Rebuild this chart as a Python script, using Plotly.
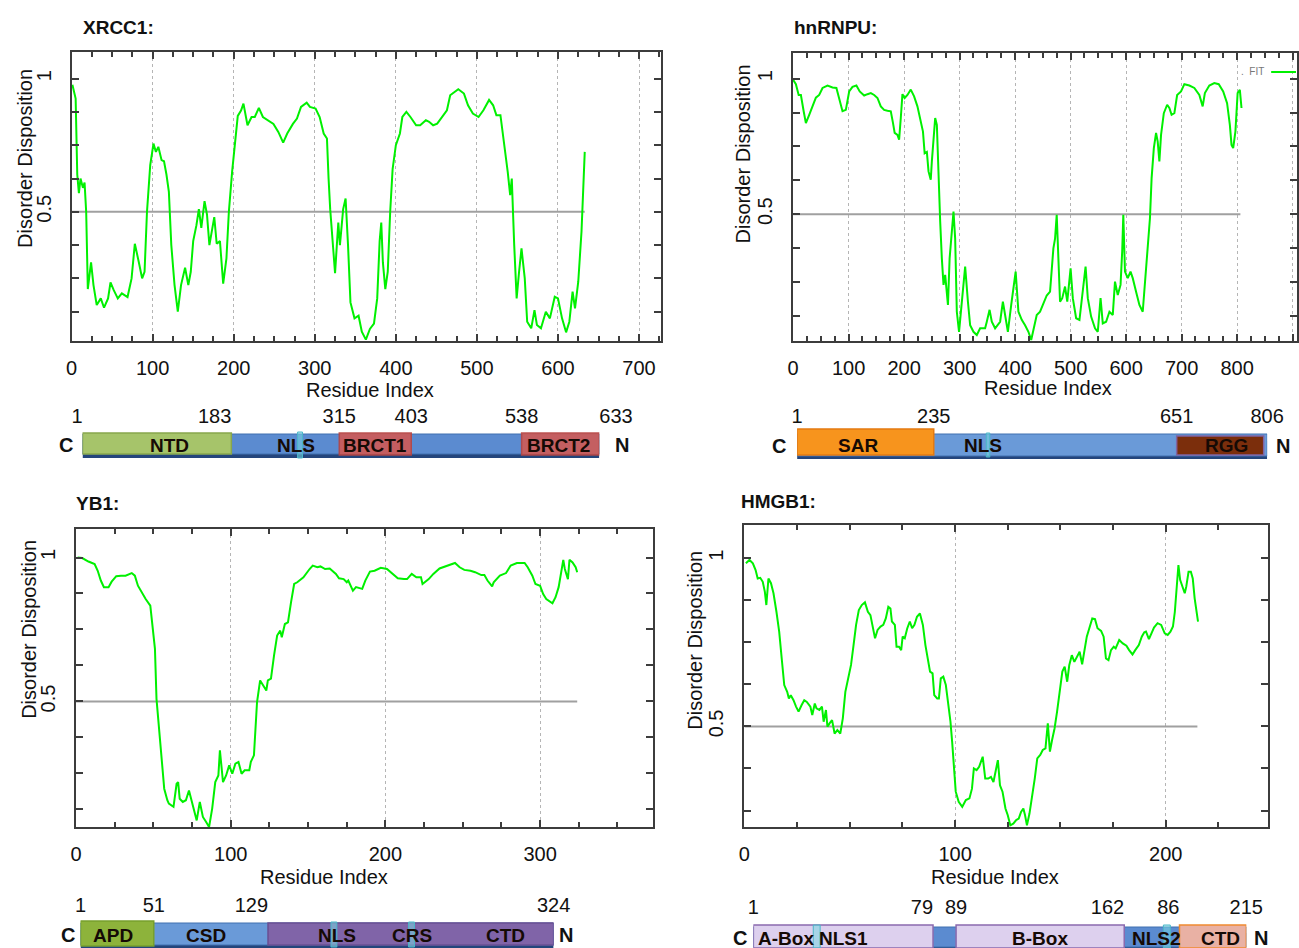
import plotly.graph_objects as go

W, H = 1299, 948
FONT = "Liberation Sans, Arial, sans-serif"
GREEN = "#00f000"
FRAME = "#3c3c3c"

# ---------------- data ----------------
xrcc1_res = [1, 5, 7, 9, 11, 14, 16, 18, 20, 24, 27, 31, 36, 40, 45, 48, 52, 57, 62, 69, 74, 78, 83, 87, 90, 93,
             97, 101, 104, 107, 111, 114, 117, 120, 123, 127, 131, 135, 140, 144, 147, 150, 154, 157, 160, 164, 167,
             170, 176, 179, 183, 187, 191, 194, 198, 202, 205, 209, 212, 217, 222, 226, 231, 236, 242, 249, 255, 261,
             266, 273, 278, 283, 290, 294, 301, 306, 311, 315, 317, 319, 323, 325, 329, 331, 335, 338, 341, 344, 349,
             354, 358, 363, 368, 373, 377, 380, 382, 384, 387, 390, 393, 396, 400, 405, 408, 413, 418, 425, 430, 437,
             441, 446, 451, 458, 463, 467, 472, 477, 484, 489, 495, 502, 508, 515, 520, 524, 529, 534, 538, 541, 543,
             546, 549, 552, 555, 559, 562, 567, 571, 574, 579, 585, 590, 596, 600, 605, 610, 614, 618, 621, 625, 629, 633]
xrcc1_dis = [0.977, 0.925, 0.64, 0.57, 0.625, 0.59, 0.61, 0.50, 0.21, 0.31, 0.225, 0.15, 0.175, 0.14, 0.175, 0.235,
             0.206, 0.175, 0.194, 0.18, 0.25, 0.38, 0.31, 0.25, 0.275, 0.50, 0.675, 0.756, 0.725, 0.744, 0.694, 0.69,
             0.64, 0.575, 0.375, 0.225, 0.125, 0.225, 0.29, 0.225, 0.275, 0.39, 0.45, 0.51, 0.44, 0.54, 0.49, 0.375,
             0.48, 0.38, 0.39, 0.23, 0.325, 0.50, 0.65, 0.76, 0.86, 0.88, 0.906, 0.825, 0.856, 0.856, 0.89, 0.856,
             0.844, 0.83, 0.80, 0.76, 0.794, 0.83, 0.85, 0.894, 0.91, 0.894, 0.888, 0.856, 0.794, 0.775, 0.625, 0.51,
             0.35, 0.27, 0.46, 0.375, 0.51, 0.55, 0.375, 0.16, 0.10, 0.11, 0.05, 0.02, 0.06, 0.08, 0.175, 0.39, 0.46,
             0.31, 0.21, 0.275, 0.50, 0.66, 0.75, 0.794, 0.856, 0.875, 0.856, 0.825, 0.825, 0.844, 0.838, 0.825,
             0.831, 0.863, 0.881, 0.9375, 0.95, 0.96, 0.944, 0.90, 0.869, 0.856, 0.881, 0.92, 0.90, 0.863, 0.863,
             0.75, 0.65, 0.5625, 0.625, 0.375, 0.175, 0.275, 0.3625, 0.25, 0.0875, 0.0625, 0.131, 0.075, 0.0625,
             0.125, 0.10, 0.181, 0.175, 0.10, 0.0475, 0.0875, 0.20, 0.1375, 0.2375, 0.425, 0.725]

hnrnpu_res = [0, 5, 10, 14, 19, 23, 29, 35, 41, 47, 53, 62, 71, 78, 83, 89, 95, 101, 107, 114, 120, 128, 134, 140,
              146, 152, 158, 164, 170, 176, 180, 183, 188, 191, 194, 197, 201, 206, 212, 218, 224, 230, 234, 237,
              241, 244, 248, 250, 253, 256, 259, 262, 265, 268, 271, 274, 279, 282, 285, 289, 292, 295, 299, 304,
              310, 315, 319, 325, 331, 337, 346, 349, 354, 358, 364, 373, 378, 382, 387, 393, 397, 401, 406, 412,
              418, 424, 429, 433, 439, 445, 451, 457, 463, 466, 469, 472, 475, 478, 481, 485, 490, 494, 500, 504,
              510, 516, 522, 527, 531, 537, 544, 549, 554, 558, 564, 570, 576, 580, 585, 590, 593, 595, 598, 603,
              608, 612, 618, 624, 630, 634, 639, 643, 646, 650, 654, 657, 660, 663, 668, 674, 678, 682, 687, 692,
              699, 705, 714, 723, 732, 738, 742, 750, 759, 767, 775, 782, 787, 790, 793, 797, 801, 805, 808]
hnrnpu_dis = [0.996, 0.98, 0.94, 0.94, 0.88, 0.836, 0.867, 0.898, 0.93, 0.94, 0.966, 0.975, 0.968, 0.966, 0.922,
              0.88, 0.885, 0.953, 0.97, 0.975, 0.953, 0.938, 0.943, 0.947, 0.94, 0.929, 0.898, 0.885, 0.882, 0.88,
              0.836, 0.80, 0.793, 0.775, 0.855, 0.943, 0.929, 0.94, 0.96, 0.935, 0.898, 0.842, 0.805, 0.725, 0.73,
              0.658, 0.627, 0.695, 0.793, 0.855, 0.83, 0.608, 0.473, 0.337, 0.239, 0.276, 0.165, 0.337, 0.424,
              0.51, 0.41, 0.14, 0.066, 0.19, 0.307, 0.177, 0.09, 0.066, 0.054, 0.079, 0.079, 0.103, 0.147, 0.103,
              0.079, 0.103, 0.177, 0.128, 0.066, 0.165, 0.239, 0.288, 0.14, 0.11, 0.09, 0.066, 0.036, 0.073, 0.128,
              0.14, 0.171, 0.20, 0.214, 0.288, 0.374, 0.41, 0.498, 0.337, 0.177, 0.19, 0.233, 0.177, 0.30, 0.19,
              0.116, 0.11, 0.214, 0.307, 0.19, 0.122, 0.079, 0.066, 0.19, 0.097, 0.103, 0.14, 0.128, 0.251, 0.202,
              0.239, 0.362, 0.498, 0.288, 0.264, 0.288, 0.264, 0.214, 0.165, 0.14, 0.239, 0.374, 0.485, 0.633,
              0.744, 0.80, 0.768, 0.695, 0.793, 0.873, 0.904, 0.892, 0.867, 0.873, 0.94, 0.953, 0.98, 0.975, 0.966,
              0.94, 0.898, 0.947, 0.975, 0.984, 0.98, 0.953, 0.91, 0.83, 0.756, 0.744, 0.805, 0.947, 0.959, 0.892]

yb1_res = [1, 4, 8, 12, 14, 16, 18, 21, 23, 26, 29, 32, 36, 38, 40, 43, 45, 48, 49, 51, 52, 54, 56, 57, 59, 60, 63,
           65, 66, 67, 69, 71, 73, 75, 76, 78, 80, 82, 84, 86, 88, 90, 92, 93, 95, 97, 99, 101, 103, 105, 107, 109,
           112, 113, 115, 116, 117, 119, 121, 123, 124, 126, 128, 130, 132, 133, 135, 137, 139, 141, 143, 147, 151,
           153, 156, 158, 161, 164, 168, 170, 173, 175, 176, 179, 181, 185, 187, 190, 193, 197, 201, 205, 208, 212,
           214, 217, 220, 223, 224, 228, 231, 235, 239, 242, 245, 248, 251, 255, 258, 262, 264, 266, 269, 270, 274,
           278, 281, 285, 290, 292, 295, 297, 300, 302, 304, 308, 310, 312, 314, 315, 316, 318, 319, 321, 323, 324]
yb1_dis = [1.0, 0.998, 0.986, 0.977, 0.954, 0.92, 0.897, 0.897, 0.916, 0.935, 0.937, 0.937, 0.946, 0.937, 0.902,
           0.873, 0.856, 0.833, 0.775, 0.683, 0.509, 0.382, 0.243, 0.197, 0.157, 0.145, 0.134, 0.214, 0.22, 0.162,
           0.151, 0.157, 0.191, 0.151, 0.128, 0.087, 0.151, 0.099, 0.082, 0.064, 0.128, 0.22, 0.243, 0.33, 0.22,
           0.243, 0.278, 0.249, 0.284, 0.29, 0.249, 0.261, 0.261, 0.29, 0.313, 0.405, 0.498, 0.573, 0.555, 0.538,
           0.573, 0.579, 0.66, 0.729, 0.746, 0.723, 0.769, 0.775, 0.845, 0.908, 0.914, 0.931, 0.96, 0.972, 0.966,
           0.969, 0.96, 0.962, 0.943, 0.928, 0.925, 0.914, 0.92, 0.885, 0.897, 0.891, 0.92, 0.951, 0.954, 0.964,
           0.96, 0.943, 0.928, 0.925, 0.925, 0.943, 0.931, 0.931, 0.908, 0.925, 0.943, 0.962, 0.969, 0.977, 0.981,
           0.966, 0.957, 0.954, 0.949, 0.939, 0.939, 0.92, 0.90, 0.914, 0.937, 0.946, 0.972, 0.981, 0.981, 0.966,
           0.937, 0.908, 0.902, 0.873, 0.856, 0.841, 0.862, 0.897, 0.96, 0.992, 0.96, 0.925, 0.992, 0.983, 0.966,
           0.949]

hmgb1_res = [0.7, 2.4, 4, 5.3, 6.3, 7.5, 8.7, 9.7, 10.4, 11.4, 12.6, 13.8, 15.2, 16.5, 17.7, 18.9, 20.3, 21.1, 22,
             23.3, 24.5, 25.7, 27.1, 28.4, 29.6, 31.3, 32.2, 33.4, 34.2, 35.6, 36.8, 37.6, 38.7, 39.4, 40.4, 41.6,
             42.8, 44.1, 45.5, 46.7, 47.9, 49.2, 50.6, 51.8, 53, 54.3, 55.7, 57.2, 58.6, 59.8, 60.8, 62, 63.2, 64.6,
             65.9, 67.1, 68.3, 69.3, 70, 71.4, 72.2, 73.4, 74.4, 75.1, 76.1, 77.3, 78.5, 79.6, 80.7, 81.9, 83.3,
             84.7, 85.9, 87.1, 88.1, 89.3, 90.1, 91.5, 92.3, 93.2, 94.4, 95.6, 96.6, 97.8, 98.6, 99.5, 100.3, 101.7,
             103.4, 105.1, 106.8, 108, 108.9, 110.2, 111.4, 113.1, 114.3, 115.7, 117, 118.2, 119.4, 120.3, 121.3,
             122.5, 123.9, 125, 126.2, 127.6, 128.9, 130.2, 131.3, 132.4, 133.2, 134.1, 135.3, 136.5, 137.8, 139,
             140.4, 141.6, 142.9, 144, 145, 146, 147.2, 148.4, 149.7, 150.9, 152, 153.2, 154.2, 155.4, 156.6, 157.9,
             159.1, 160.3, 161.3, 162.5, 163.7, 165.1, 166.4, 167.6, 169.3, 170.5, 171.6, 172.8, 174, 175.3, 176.2,
             177.9, 179.6, 181.3, 182.6, 184.2, 185.5, 187.2, 188.6, 189.8, 190.6, 192, 193.2, 194.4, 196.1, 197.8,
             199.5, 200.9, 202.2, 203.4, 204.3, 205.2, 206, 206.8, 208, 209, 209.7, 210.8, 211.9, 212.8, 213.7, 215.3]
hmgb1_dis = [0.985, 0.995, 0.985, 0.965, 0.94, 0.942, 0.93, 0.90, 0.861, 0.94, 0.926, 0.896, 0.841, 0.782, 0.702,
             0.623, 0.603, 0.583, 0.593, 0.578, 0.559, 0.544, 0.563, 0.578, 0.573, 0.559, 0.534, 0.568, 0.554, 0.549,
             0.559, 0.514, 0.549, 0.499, 0.509, 0.519, 0.479, 0.489, 0.479, 0.524, 0.603, 0.643, 0.683, 0.742,
             0.802, 0.846, 0.861, 0.869, 0.841, 0.831, 0.802, 0.762, 0.787, 0.797, 0.802, 0.821, 0.856, 0.851,
             0.812, 0.802, 0.737, 0.737, 0.727, 0.767, 0.762, 0.792, 0.812, 0.792, 0.802, 0.826, 0.836, 0.802,
             0.742, 0.692, 0.663, 0.658, 0.593, 0.583, 0.583, 0.643, 0.648, 0.623, 0.573, 0.514, 0.454, 0.365,
             0.306, 0.276, 0.261, 0.281, 0.286, 0.315, 0.375, 0.370, 0.380, 0.410, 0.345, 0.345, 0.350, 0.335,
             0.375, 0.400, 0.325, 0.306, 0.256, 0.236, 0.206, 0.211, 0.221, 0.226, 0.246, 0.256, 0.236, 0.206,
             0.241, 0.286, 0.345, 0.405, 0.415, 0.430, 0.435, 0.509, 0.425, 0.459, 0.494, 0.544, 0.603, 0.663,
             0.678, 0.633, 0.683, 0.712, 0.692, 0.707, 0.722, 0.685, 0.722, 0.767, 0.792, 0.821, 0.819, 0.792,
             0.784, 0.767, 0.702, 0.697, 0.727, 0.737, 0.732, 0.757, 0.747, 0.740, 0.727, 0.714, 0.727, 0.742,
             0.767, 0.78, 0.782, 0.760, 0.777, 0.794, 0.807, 0.802, 0.777, 0.772, 0.782, 0.797, 0.841, 0.926, 0.98,
             0.936, 0.915, 0.896, 0.915, 0.96, 0.96, 0.94, 0.881, 0.812]

seq_len = {"XRCC1": 633, "hnRNPU": 806, "YB1": 324, "HMGB1": 215}
threshold = 0.5

ytick_vals = [0.125, 0.25, 0.375, 0.5, 0.625, 0.75, 0.875, 1.0]
ytick_text = ["", "", "", "0.5", "", "", "", "1"]

xrcc1_xticks = [0, 100, 200, 300, 400, 500, 600, 700]
hnrnpu_xticks = [0, 100, 200, 300, 400, 500, 600, 700, 800, 900]
yb1_xticks = [0, 100, 200, 300]
hmgb1_xticks = [0, 100, 200]

# domain diagrams (residue numbers)
xrcc1_bounds = [1, 183, 315, 403, 538, 633]
xrcc1_bound_text = ["1", "183", "315", "403", "538", "633"]
xrcc1_bound_side = ["middle left", "middle left", "middle center", "middle center", "middle center", "middle right"]
xrcc1_motifs = [(264, 270)]
xrcc1_labels = ["NTD", "NLS", "BRCT1", "BRCT2"]
xrcc1_label_res = [107, 262, 359, 583]

hnrnpu_bounds = [1, 235, 651, 806]
hnrnpu_bound_text = ["1", "235", "651", "806"]
hnrnpu_bound_side = ["middle center", "middle center", "middle center", "middle center"]
hnrnpu_motifs = [(325, 331)]
hnrnpu_labels = ["SAR", "NLS", "RGG"]
hnrnpu_label_res = [106, 319, 736]

yb1_bounds = [1, 51, 129, 324]
yb1_bound_text = ["1", "51", "129", "324"]
yb1_bound_side = ["middle center", "middle center", "middle left", "middle center"]
yb1_motifs = [(172, 176), (225, 229)]
yb1_labels = ["APD", "CSD", "NLS", "CRS", "CTD"]
yb1_label_res = [23, 87, 176, 227, 291]

hmgb1_bounds = [1, 79, 89, 162, 186, 215]
hmgb1_bound_text = ["1", "79", "89", "162", "86", "215"]
hmgb1_bound_side = ["middle center", "middle left", "middle center", "middle left", "middle left", "middle center"]
hmgb1_motifs = [(27, 30), (179, 182)]
hmgb1_labels = ["A-Box", "NLS1", "B-Box", "NLS2", "CTD"]
hmgb1_label_res = [15, 40, 125.5, 176, 204]


# ---------------- helpers ----------------
def PX(p):
    return p / W


def PY(p):
    return 1 - p / H


fig = go.Figure()

panels = [
    dict(key="XRCC1", n=1, res=xrcc1_res, dis=xrcc1_dis, xdom=(66, 659), ydom=(52, 341),
         xr=[0, 727], yr=[0.015, 1.1], xt=xrcc1_xticks),
    dict(key="hnRNPU", n=2, res=hnrnpu_res, dis=hnrnpu_dis, xdom=(792, 1299), ydom=(53, 341),
         xr=[0, 908], yr=[0.032, 1.095], xt=hnrnpu_xticks),
    dict(key="YB1", n=3, res=yb1_res, dis=yb1_dis, xdom=(70.5, 651), ydom=(529, 827),
         xr=[0, 373], yr=[0.064, 1.099], xt=yb1_xticks),
    dict(key="HMGB1", n=4, res=hmgb1_res, dis=hmgb1_dis, xdom=(743, 1270), ydom=(525, 827),
         xr=[0, 248.6], yr=[0.201, 1.099], xt=hmgb1_xticks),
]

layout_axes = {}
for p in panels:
    n = p["n"]
    xa = "x" if n == 1 else f"x{n}"
    ya = "y" if n == 1 else f"y{n}"
    L = seq_len[p["key"]]
    fig.add_trace(go.Scatter(x=[0, L], y=[threshold, threshold], mode="lines",
                             line=dict(color="#a0a0a0", width=2), xaxis=xa, yaxis=ya,
                             showlegend=False, hoverinfo="skip"))
    fig.add_trace(go.Scatter(x=p["res"], y=p["dis"], mode="lines",
                             line=dict(color=GREEN, width=2), xaxis=xa, yaxis=ya,
                             showlegend=False, name="FIT"))
    ticktext = [str(v) if not (p["key"] == "hnRNPU" and v == 900) else "" for v in p["xt"]]
    layout_axes["xaxis" if n == 1 else f"xaxis{n}"] = dict(
        domain=[PX(p["xdom"][0]), PX(p["xdom"][1])], range=p["xr"], anchor=ya,
        tickmode="array", tickvals=p["xt"], ticktext=ticktext,
        ticks="inside", ticklen=7, tickwidth=1.5, tickcolor=FRAME,
        showline=True, linecolor=FRAME, linewidth=2, mirror="ticks",
        showgrid=True, gridcolor="#b5b5b5", griddash="dot", gridwidth=1.2, zeroline=False,
        tickfont=dict(family=FONT, size=20, color="#111"), ticklabelstandoff=8,
        minor=dict(dtick=25, tick0=0, ticks="inside", ticklen=5, tickcolor=FRAME, showgrid=False),
    )
    layout_axes["yaxis" if n == 1 else f"yaxis{n}"] = dict(
        domain=[PY(p["ydom"][1]), PY(p["ydom"][0])], range=p["yr"], anchor=xa,
        tickmode="array", tickvals=ytick_vals, ticktext=ytick_text,
        ticks="inside", ticklen=7, tickwidth=1.5, tickcolor=FRAME,
        showline=True, linecolor=FRAME, linewidth=2, mirror="ticks",
        showgrid=False, zeroline=False, tickangle=-90,
        tickfont=dict(family=FONT, size=20, color="#111"), ticklabelstandoff=11,
    )

# ---------------- domain diagrams ----------------
diagrams = [
    dict(n=5, key="XRCC1", bar=(77, 597), strip=(400, 470), num_y=418, bar_y=(434, 454), shadow_y=(440, 458),
         bar_col="#5b8bd0", bounds=xrcc1_bounds, btext=xrcc1_bound_text, bside=xrcc1_bound_side, lab_y=446,
         labels=xrcc1_labels, label_res=xrcc1_label_res, C=(60, 445), N=(620, 445),
         boxes=[(1, 183, 433, 454, "#a6c46a", "#88a64c", 1.0),
                (315, 403, 433, 455, "#d05a55", "#b84440", 0.9),
                (538, 633, 433, 455, "#d05a55", "#b84440", 0.9)],
         motifs=xrcc1_motifs, mot_y=(432, 458)),
    dict(n=6, key="hnRNPU", bar=(796, 1269), strip=(400, 470), num_y=418, bar_y=(434, 456), shadow_y=(441, 459),
         bar_col="#6a9ad8", bounds=hnrnpu_bounds, btext=hnrnpu_bound_text, bside=hnrnpu_bound_side, lab_y=446,
         labels=hnrnpu_labels, label_res=hnrnpu_label_res, C=(778, 446), N=(1285, 446),
         boxes=[(1, 235, 429, 455, "#f7941d", "#e57a10", 1.0),
                (651, 800, 436, 455, "#7b2e0c", "#8064a2", 1.0)],
         motifs=hnrnpu_motifs, mot_y=(433, 457)),
    dict(n=7, key="YB1", bar=(75, 551), strip=(888, 948), num_y=907, bar_y=(923, 945), shadow_y=(930, 948),
         bar_col="#6a9ad8", bounds=yb1_bounds, btext=yb1_bound_text, bside=yb1_bound_side, lab_y=935,
         labels=yb1_labels, label_res=yb1_label_res, C=(62, 935), N=(563, 935),
         boxes=[(1, 51, 921, 946, "#8db33b", "#77a02c", 1.0),
                (129, 324, 923, 945, "#8064a8", "#6a4f92", 1.0)],
         motifs=yb1_motifs, mot_y=(922, 947)),
    dict(n=8, key="HMGB1", bar=(752, 1248), strip=(888, 948), num_y=909, bar_y=(927, 947), shadow_y=(933, 948),
         bar_col="#5b8bd0", bounds=hmgb1_bounds, btext=hmgb1_bound_text, bside=hmgb1_bound_side, lab_y=938,
         labels=hmgb1_labels, label_res=hmgb1_label_res, C=(739, 938), N=(1263, 938),
         boxes=[(1, 79, 925, 948, "#ddd0ee", "#8a6aae", 1.0),
                (89, 162, 925, 948, "#ddd0ee", "#8a6aae", 1.0),
                (186, 215, 925, 948, "#e9b1a4", "#f08a30", 1.0)],
         motifs=hmgb1_motifs, mot_y=(925, 948)),
]

shapes = []
annotations = []
for d in diagrams:
    n = d["n"]
    xa, ya = f"x{n}", f"y{n}"
    L = seq_len[d["key"]]
    layout_axes[f"xaxis{n}"] = dict(domain=[PX(d["bar"][0]), PX(d["bar"][1])], range=[1, L],
                                    anchor=ya, visible=False, fixedrange=True)
    layout_axes[f"yaxis{n}"] = dict(domain=[PY(d["strip"][1]), PY(d["strip"][0])],
                                    range=[d["strip"][1], d["strip"][0]],
                                    anchor=xa, visible=False, fixedrange=True)
    shapes.append(dict(type="rect", xref=xa, yref=ya, x0=1, x1=L, y0=d["shadow_y"][0], y1=d["shadow_y"][1],
                       fillcolor="#24457c", line=dict(width=0), layer="above"))
    shapes.append(dict(type="rect", xref=xa, yref=ya, x0=1, x1=L, y0=d["bar_y"][0], y1=d["bar_y"][1],
                       fillcolor=d["bar_col"], line=dict(color="#4070b0", width=1), layer="above"))
    for (a, b, y0, y1, fc, lc, op) in d["boxes"]:
        shapes.append(dict(type="rect", xref=xa, yref=ya, x0=a, x1=b, y0=y0, y1=y1,
                           fillcolor=fc, line=dict(color=lc, width=1.5), opacity=op, layer="above"))
    for (a, b) in d["motifs"]:
        shapes.append(dict(type="rect", xref=xa, yref=ya, x0=a, x1=b, y0=d["mot_y"][0], y1=d["mot_y"][1],
                           fillcolor="rgba(120,215,225,0.55)", line=dict(color="#4bb8c8", width=1),
                           layer="above"))
    fig.add_trace(go.Scatter(x=d["bounds"], y=[d["num_y"]] * len(d["bounds"]), mode="text",
                             text=d["btext"], textposition=d["bside"],
                             textfont=dict(family=FONT, size=20, color="#111"),
                             xaxis=xa, yaxis=ya, cliponaxis=False, showlegend=False, hoverinfo="skip"))
    for lab, r in zip(d["labels"], d["label_res"]):
        annotations.append(dict(x=r, y=d["lab_y"], xref=xa, yref=ya, text=f"<b>{lab}</b>",
                                xanchor="center", yanchor="middle",
                                showarrow=False, font=dict(family=FONT, size=19, color="#150a05")))
    for letter, pos in (("C", d["C"]), ("N", d["N"])):
        annotations.append(dict(x=PX(pos[0]), y=PY(pos[1]), xref="paper", yref="paper", text=f"<b>{letter}</b>",
                                xanchor="center", yanchor="middle",
                                showarrow=False, font=dict(family=FONT, size=20, color="#111")))

# ---------------- texts ----------------
titles = [("XRCC1:", 75, 27), ("hnRNPU:", 791, 27), ("YB1:", 68, 504), ("HMGB1:", 738, 501)]
for t, x, y in titles:
    annotations.append(dict(x=PX(x), y=PY(y), xref="paper", yref="paper", text=f"<b>{t}</b>",
                            xanchor="left", yanchor="middle", showarrow=False,
                            font=dict(family=FONT, size=19, color="#111")))

ytitles = [(19, 158), (742, 154), (23, 629), (693, 640)]
for x, y in ytitles:
    annotations.append(dict(x=PX(x), y=PY(y), xref="paper", yref="paper", text="Disorder Disposition",
                            xanchor="center", yanchor="middle",
                            textangle=-90, showarrow=False, font=dict(family=FONT, size=20, color="#111")))

xtitles = [(366, 390), (1048, 388), (320, 877), (995, 877)]
for x, y in xtitles:
    annotations.append(dict(x=PX(x), y=PY(y), xref="paper", yref="paper", text="Residue Index",
                            xanchor="center", yanchor="middle",
                            showarrow=False, font=dict(family=FONT, size=20, color="#111")))

# FIT legend remnant
annotations.append(dict(x=PX(1268), y=PY(72), xref="paper", yref="paper", text=".  FIT",
                        xanchor="right", yanchor="middle", showarrow=False,
                        font=dict(family=FONT, size=10, color="#777")))
shapes.append(dict(type="line", xref="paper", yref="paper", x0=PX(1273), x1=PX(1298), y0=PY(72), y1=PY(72),
                   line=dict(color=GREEN, width=2)))

fig.update_layout(
    width=W, height=H, margin=dict(l=0, r=0, t=0, b=0),
    paper_bgcolor="white", plot_bgcolor="white",
    showlegend=False, shapes=shapes, annotations=annotations,
    font=dict(family=FONT, color="#111"),
    **layout_axes,
)

fig.write_html("out.html", config={"displayModeBar": False},
               post_script="document.body.style.margin='0';document.body.style.overflow='hidden';")
